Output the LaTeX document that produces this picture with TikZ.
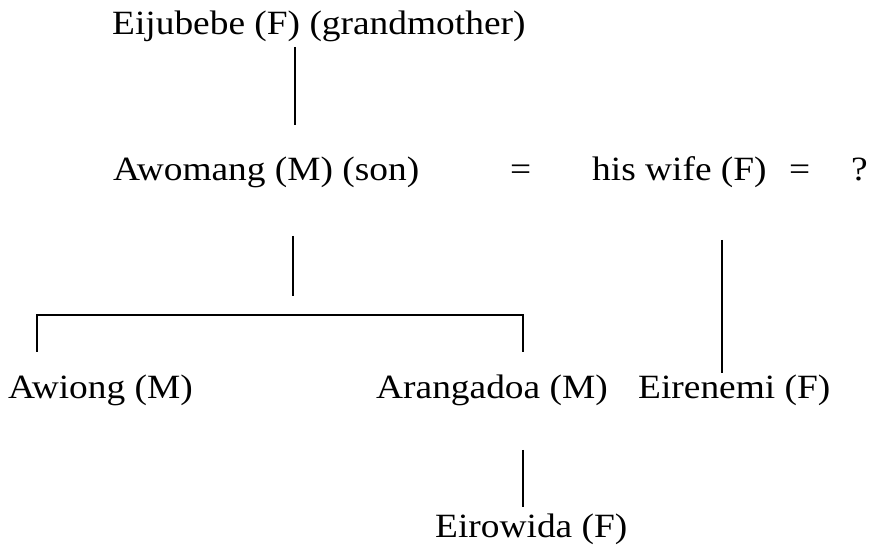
\documentclass[tikz,border=0pt]{standalone}
\usepackage{fontspec}
\setmainfont[FakeStretch=1.1]{Liberation Serif}
\begin{document}
\begin{tikzpicture}[x=1pt,y=1pt,
  lbl/.style={anchor=base west,inner sep=0pt,font=\fontsize{34}{40}\selectfont},
  kin/.style={line width=1.2pt,black}]
\useasboundingbox[fill=white] (0,0) rectangle (872,559);
% texts
\node[lbl] (eij) at (112,524) {Eijubebe (F) (grandmother)};
\node[lbl] (awo) at (113,378) {Awomang (M) (son)};
\node[lbl] (eqa) at (510,378) {=};
\node[lbl] (wife) at (592,378) {his wife (F)};
\node[lbl] (eqb) at (789,378) {=};
\node[lbl] (qm) at (851,378) {?};
\node[lbl] (awi) at (8,160) {Awiong (M)};
\node[lbl] (ara) at (376,160) {Arangadoa (M)};
\node[lbl] (eir) at (638,160) {Eirenemi (F)};
\node[lbl] (eiro) at (435,21) {Eirowida (F)};
% connector points
\coordinate (a1) at (295,512); \coordinate (a2) at (295,434);
\coordinate (b1) at (293,323); \coordinate (b2) at (293,263);
\coordinate (c1) at (722,319); \coordinate (c2) at (722,186);
\coordinate (d1) at (37,207);  \coordinate (d2) at (37,244);
\coordinate (d3) at (523,244); \coordinate (d4) at (523,207);
\coordinate (e1) at (523,109); \coordinate (e2) at (523,52);
\draw[kin] (a1) -- (a2);
\draw[kin] (b1) -- (b2);
\draw[kin] (c1) -- (c2);
\draw[kin] (d1) -- (d2) -- (d3) -- (d4);
\draw[kin] (e1) -- (e2);
\end{tikzpicture}
\end{document}
